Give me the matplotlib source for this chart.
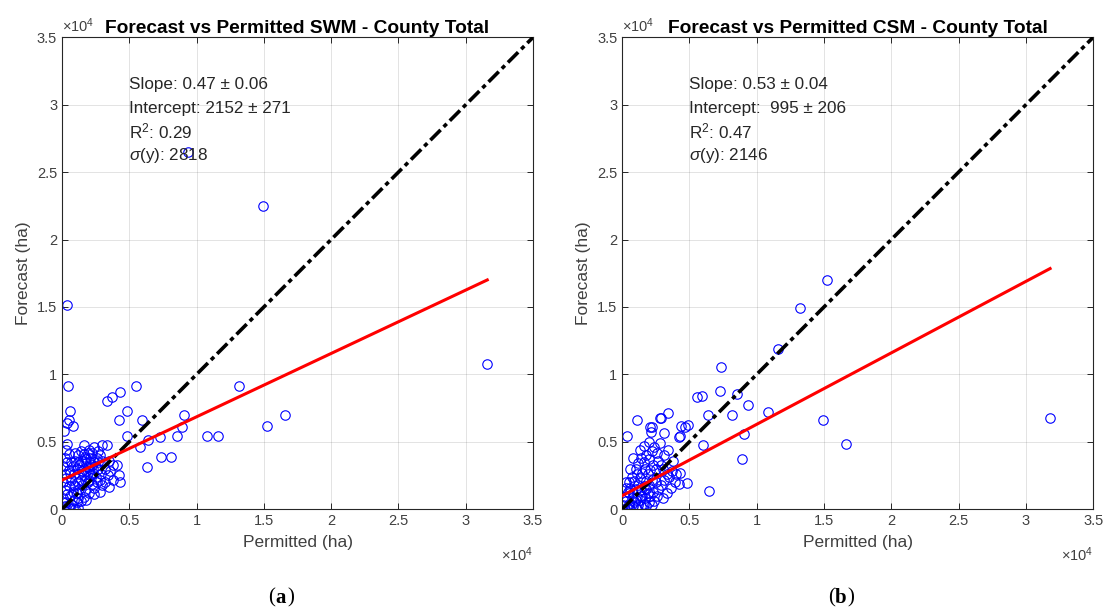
import matplotlib
matplotlib.use('Agg')
import matplotlib.pyplot as plt
import numpy as np
from matplotlib.ticker import FuncFormatter, MultipleLocator

plt.rcParams['font.family'] = ['Liberation Sans', 'DejaVu Sans']
plt.rcParams['mathtext.fontset'] = 'custom'
plt.rcParams['mathtext.rm'] = 'Liberation Sans'
plt.rcParams['mathtext.it'] = 'Liberation Sans:italic'
plt.rcParams['mathtext.bf'] = 'Liberation Sans:bold'

# SWM panel, values read in units of 1e4 ha
swm_x = [0.035, 0.045, 0.059, 0.054, 0.035, 0.08, 0.015, 0.035,
         0.55, 1.317, 0.332, 0.369, 0.431, 0.48, 0.426, 0.594,
         0.485, 0.58, 0.64, 0.634, 0.728, 0.733, 0.81, 0.852, 0.889, 0.906, 1.075, 1.157, 1.52, 1.657, 1.493, 0.934, 3.16,
         0.431, 0.42, 0.406, 0.35, 0.332, 0.30, 0.163, 0.24, 0.27, 0.2,
         0.01, 0.02, 0.03, 0.01, 0.04, 0.02, 0.05, 0.01, 0.03, 0.02, 0.05, 0.01, 0.04, 0.02, 0.05, 0.03,
         0.06, 0.08, 0.1, 0.12, 0.07, 0.09, 0.06, 0.11,
         0.08, 0.1, 0.12, 0.14, 0.16, 0.18, 0.2, 0.22, 0.24, 0.26, 0.28, 0.3,
         0.07, 0.09, 0.11, 0.13, 0.15, 0.17, 0.19, 0.21, 0.23, 0.25, 0.27, 0.29,
         0.08, 0.1, 0.12, 0.14, 0.16, 0.18, 0.2, 0.22, 0.24, 0.26, 0.28, 0.3,
         0.09, 0.11, 0.13, 0.15, 0.17, 0.19, 0.21, 0.23, 0.25, 0.27, 0.32, 0.34,
         0.06, 0.07, 0.1, 0.13, 0.15, 0.17, 0.19, 0.21, 0.12, 0.16, 0.18, 0.22,
         0.36, 0.38, 0.35, 0.32, 0.28, 0.24, 0.2, 0.16, 0.14, 0.18, 0.12, 0.38]
swm_y = [1.515, 0.917, 0.727, 0.66, 0.64, 0.615, 0.58, 0.487,
         0.917, 0.917, 0.80, 0.835, 0.867, 0.727, 0.658, 0.658,
         0.54, 0.46, 0.51, 0.313, 0.534, 0.39, 0.39, 0.54, 0.613, 0.695, 0.54, 0.54, 0.616, 0.695, 2.247, 2.646, 1.079,
         0.20, 0.25, 0.325, 0.165, 0.473, 0.473, 0.473, 0.46, 0.43, 0.44,
         0.0, 0.02, 0.05, 0.08, 0.11, 0.14, 0.17, 0.2, 0.23, 0.26, 0.29, 0.32, 0.35, 0.38, 0.41, 0.44,
         0.0, 0.01, 0.0, 0.01, 0.04, 0.07, 0.1, 0.05,
         0.13, 0.17, 0.2, 0.22, 0.25, 0.28, 0.3, 0.33, 0.35, 0.38, 0.4, 0.36,
         0.22, 0.26, 0.3, 0.33, 0.36, 0.39, 0.42, 0.38, 0.27, 0.24, 0.3, 0.26,
         0.32, 0.36, 0.4, 0.43, 0.3, 0.34, 0.22, 0.19, 0.16, 0.2, 0.22, 0.18,
         0.18, 0.12, 0.15, 0.18, 0.14, 0.2, 0.25, 0.3, 0.32, 0.35, 0.3, 0.25,
         0.27, 0.35, 0.42, 0.26, 0.28, 0.22, 0.31, 0.35, 0.35, 0.41, 0.37, 0.42,
         0.28, 0.33, 0.36, 0.2, 0.13, 0.11, 0.12, 0.09, 0.06, 0.07, 0.08, 0.22]

# CSM panel, values read in units of 1e4 ha
csm_x = [1.52, 1.322, 1.157, 0.736, 0.728, 0.555, 0.592, 0.852, 0.934, 0.815, 0.641, 1.082, 1.496, 1.662,
         0.906, 0.60, 0.894, 0.649, 0.493, 0.47, 0.423, 0.485, 0.431, 0.42, 0.344, 0.287, 0.114, 0.035,
         0.22, 0.213, 0.312, 3.18, 0.28, 0.21, 0.44, 0.43,
         0.02, 0.04, 0.06, 0.08, 0.1, 0.12, 0.14, 0.16, 0.18, 0.2, 0.22, 0.24,
         0.01, 0.03, 0.05, 0.07, 0.09, 0.11, 0.13, 0.15, 0.17, 0.19, 0.21, 0.23,
         0.02, 0.04, 0.06, 0.08, 0.1, 0.12, 0.14, 0.16, 0.18, 0.2, 0.22, 0.25, 0.27, 0.29, 0.31, 0.33, 0.35, 0.37,
         0.05, 0.07, 0.09, 0.11, 0.13, 0.15, 0.17, 0.19, 0.21, 0.23, 0.25, 0.27, 0.29, 0.31,
         0.1, 0.12, 0.14, 0.16, 0.18, 0.2, 0.22, 0.24, 0.26, 0.28, 0.16, 0.2, 0.13, 0.08, 0.06, 0.03, 0.05, 0.03,
         0.3, 0.33, 0.36, 0.26, 0.18, 0.14, 0.1, 0.39, 0.4, 0.38, 0.34, 0.3]
csm_y = [1.70, 1.49, 1.188, 1.057, 0.874, 0.83, 0.843, 0.855, 0.776, 0.695, 0.695, 0.72, 0.658, 0.486,
         0.56, 0.473, 0.375, 0.135, 0.628, 0.61, 0.534, 0.195, 0.27, 0.19, 0.712, 0.678, 0.658, 0.54,
         0.613, 0.571, 0.564, 0.676, 0.68, 0.61, 0.62, 0.54,
         0.0, 0.01, 0.0, 0.02, 0.01, 0.03, 0.02, 0.04, 0.02, 0.05, 0.03, 0.06,
         0.03, 0.06, 0.04, 0.08, 0.05, 0.09, 0.07, 0.1, 0.08, 0.12, 0.1, 0.13,
         0.09, 0.13, 0.16, 0.12, 0.15, 0.18, 0.14, 0.17, 0.21, 0.18, 0.22, 0.2, 0.15, 0.18, 0.22, 0.26, 0.24, 0.28,
         0.2, 0.24, 0.21, 0.26, 0.23, 0.27, 0.3, 0.26, 0.29, 0.33, 0.3, 0.36, 0.33, 0.4,
         0.3, 0.34, 0.38, 0.35, 0.4, 0.37, 0.43, 0.46, 0.42, 0.49, 0.47, 0.5, 0.44, 0.38, 0.3, 0.2, 0.12, 0.16,
         0.08, 0.12, 0.16, 0.1, 0.15, 0.1, 0.07, 0.2, 0.26, 0.36, 0.44, 0.3]

titles = ['Forecast vs Permitted SWM - County Total', 'Forecast vs Permitted CSM - County Total']
slopes = [0.47, 0.53]
intercepts = [2152, 995]
stats = [['Slope: 0.47 ± 0.06', 'Intercept: 2152 ± 271', 'R$^2$: 0.29', '$\\sigma$(y): 2818'],
         ['Slope: 0.53 ± 0.04', 'Intercept:  995 ± 206', 'R$^2$: 0.47', '$\\sigma$(y): 2146']]
panel_tags = ['a', 'b']

gray = '#262626'
fig = plt.figure(figsize=(11.07, 6.12), dpi=100)
lefts = [0.056, 0.562]
data = [(swm_x, swm_y), (csm_x, csm_y)]

for i in range(2):
    ax = fig.add_axes([lefts[i], 0.168, 0.4255, 0.771])
    x = np.array(data[i][0]) * 1e4
    y = np.array(data[i][1]) * 1e4

    ax.plot([0, 35000], [0, 35000], color='k', lw=2.6, linestyle=(0, (4, 1.2, 1.2, 1.2)), zorder=3)
    ax.plot(x, y, 'o', mfc='none', mec='b', ms=6.8, mew=0.8, zorder=2)
    xf = np.array([0, x.max()])
    ax.plot(xf, slopes[i] * xf + intercepts[i], color='r', lw=2.2, zorder=4)

    ax.set_xlim(0, 35000)
    ax.set_ylim(0, 35000)
    ax.xaxis.set_major_locator(MultipleLocator(5000))
    ax.yaxis.set_major_locator(MultipleLocator(5000))
    fmt = FuncFormatter(lambda v, p: '%g' % (v / 1e4))
    ax.xaxis.set_major_formatter(fmt)
    ax.yaxis.set_major_formatter(fmt)
    ax.grid(True, color=gray, alpha=0.13, lw=0.7)
    ax.tick_params(direction='in', top=True, right=True, length=4, width=0.7,
                   colors=gray, labelsize=10.5, labelcolor='#404040')
    for s in ax.spines.values():
        s.set_color(gray)
        s.set_linewidth(0.8)

    ax.set_xlabel('Permitted (ha)', fontsize=12.5, color='#404040', labelpad=5)
    ax.set_ylabel('Forecast (ha)', fontsize=12.5, color='#404040', labelpad=4)
    ax.set_title(titles[i], fontsize=13.8, fontweight='bold', pad=3)

    ax.text(0.0, 1.006, '×10$^4$', transform=ax.transAxes, ha='left', va='bottom',
            fontsize=10.5, color='#404040')
    ax.text(1.0, -0.097, '×10$^4$', transform=ax.transAxes, ha='right', va='center',
            fontsize=10.5, color='#404040')

    for j, line in enumerate(stats[i]):
        ax.text(5000, 31500 - j * 1750, line, fontsize=12.3, color=gray, va='center', zorder=5)

    cx = lefts[i] + 0.4255 / 2 - 0.015
    fig.text(cx - 0.0055, 0.023, '(', fontsize=15, family='Liberation Serif', ha='right', va='center')
    fig.text(cx, 0.023, panel_tags[i], fontsize=15, family='Liberation Serif', fontweight='bold',
             ha='center', va='center')
    fig.text(cx + 0.0055, 0.023, ')', fontsize=15, family='Liberation Serif', ha='left', va='center')

fig.savefig('out.png', dpi=100)
